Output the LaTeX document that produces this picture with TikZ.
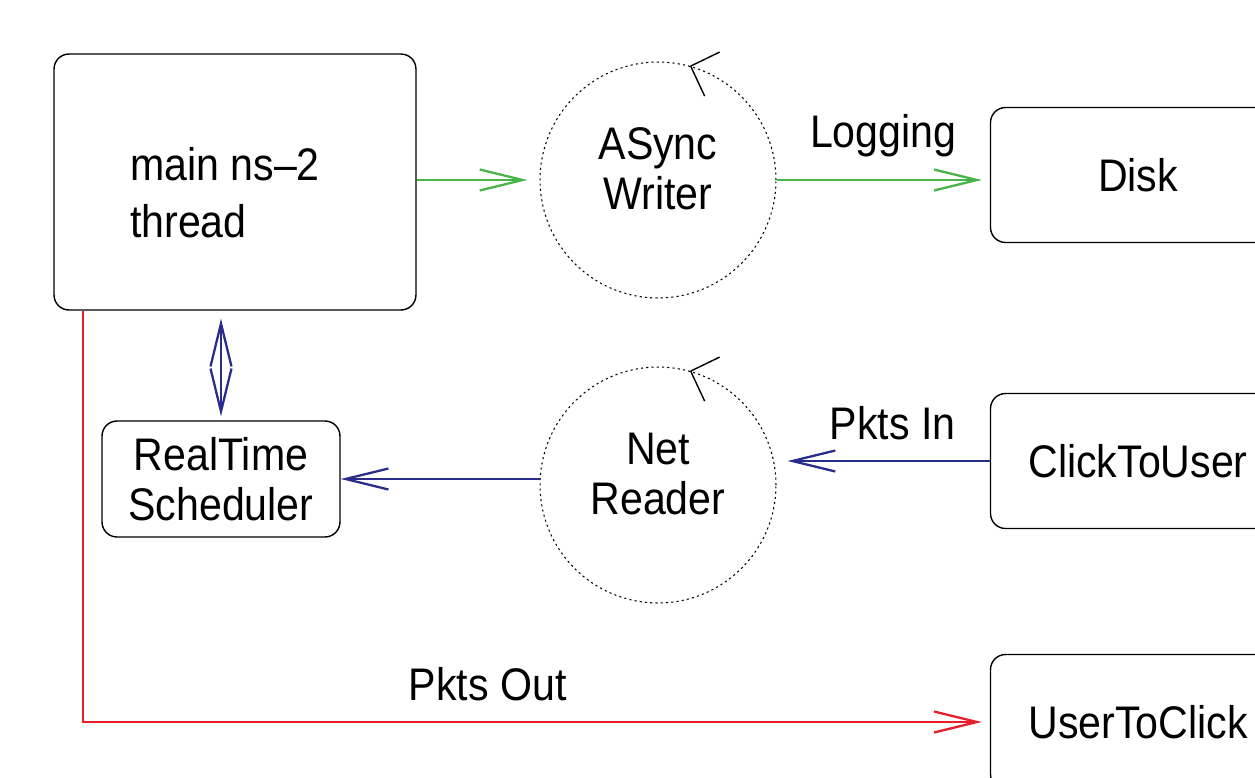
\documentclass[tikz,border=0pt]{standalone}
\usepackage{fontspec}
\setmainfont{Liberation Sans}[FakeStretch=0.9]
\usetikzlibrary{positioning, arrows.meta}

\definecolor{loggreen}{RGB}{70,180,70}
\definecolor{pktblue}{RGB}{40,45,140}
\definecolor{pktred}{RGB}{232,30,40}

% extra room under the last line, lifts the text a bit
\newcommand{\liftgap}{\rule[-0.45cm]{0pt}{0.45cm}}

\begin{document}
\begin{tikzpicture}[
                x=0.02cm, y=-0.02cm,
                every node/.style={
                        font=\fontsize{26}{28.5}\selectfont
                    },
                box/.style={
                        draw,
                        rounded corners=0.3cm,
                        line width=0.8pt,
                        align=center
                    },
                thread/.style={
                        draw,
                        circle,
                        dash pattern=on 1.2pt off 1.8pt,
                        line width=0.6pt,
                        minimum size=4.72cm,
                        align=center
                    },
                barb/.style={
                        -{Straight Barb[length=0.86cm, width=0.42cm]},
                        line width=1.3pt
                    },
                lbl/.style={
                        anchor=base
                    }
            ]

            \clip (0,0) rectangle (1255,778);

            \node (main) [box, minimum width=7.24cm, minimum height=5.12cm, align=left] at (235,182) {\rule{0pt}{1.1cm}main ns--2\hspace*{0.4cm}\\[4pt]thread};
            \node (sched) [box, minimum width=4.76cm, minimum height=2.32cm] at (221,479) {RealTime\\Scheduler};
            \node (wr) [thread] at (658,180) {ASync\\Writer\liftgap};
            \node (nr) [thread] at (658,485) {Net\\Reader\liftgap};
            \node (disk) [box, minimum width=5.9cm, minimum height=2.7cm] at (1138,175) {Disk};
            \node (ctu) [box, minimum width=5.9cm, minimum height=2.7cm] at (1138,461) {ClickToUser};
            \node (utc) [box, minimum width=5.9cm, minimum height=2.7cm] at (1138,722) {UserToClick};

            % rotation marks on the threads
            \draw[line width=0.8pt] (wr.74) -- ++(29,-14);
            \draw[line width=0.8pt] (wr.74) -- ++(14,30);
            \draw[line width=0.8pt] (nr.74) -- ++(29,-14);
            \draw[line width=0.8pt] (nr.74) -- ++(14,30);

            \draw[barb, loggreen, shorten >=0.24cm] (main.east |- wr.west) -- (wr.west);
            \draw[barb, loggreen, shorten >=0.16cm] (wr.east) -- (disk.west |- wr.east)
                node[lbl, midway, yshift=0.66cm, text=black] (logging) {Logging};

            \draw[barb, pktblue, shorten >=0.22cm] (ctu.west) -- (ctu.west -| nr.east)
                node[lbl, pos=0.456, yshift=0.44cm, text=black] (pktsin) {Pkts In};
            \draw[barb, pktblue] (sched.east -| nr.west) -- (sched.east);
            \draw[barb, pktblue, {Straight Barb[length=0.86cm, width=0.42cm]}-{Straight Barb[length=0.86cm, width=0.42cm]},
                shorten <=0.16cm, shorten >=0.08cm] (sched.north |- main.south) -- (sched.north);

            \draw[barb, pktred, shorten >=0.16cm] ([xshift=0.6cm]main.south west) |- (utc.west)
                node[lbl, pos=0.723, yshift=0.44cm, text=black] (pktsout) {Pkts Out};

\end{tikzpicture}
\end{document}
